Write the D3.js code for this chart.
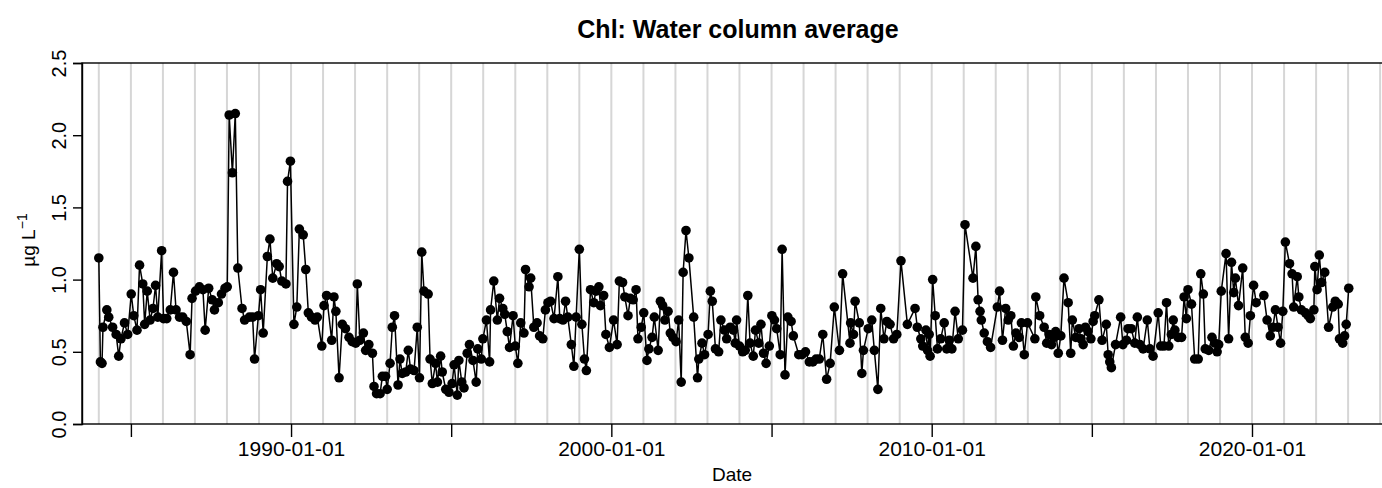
<!DOCTYPE html>
<html><head><meta charset="utf-8">
<script src="https://cdn.jsdelivr.net/npm/d3@7"></script>
<style>body{margin:0;background:#fff}svg{display:block}text{font-family:"Liberation Sans",Arial,sans-serif;fill:#000}</style>
</head><body><svg id="c" width="1382" height="488"></svg>
<script>
// Sample dates (decimal years) and chlorophyll values (µg/L)
const years = [
1984.00,1984.05,1984.10,1984.13,1984.25,1984.31,1984.43,1984.54,1984.62,1984.69,1984.80,1984.90,
1985.01,1985.09,1985.19,1985.27,1985.37,1985.43,1985.51,1985.60,1985.69,1985.77,1985.84,1985.96,
1986.02,1986.12,1986.23,1986.33,1986.41,1986.52,1986.62,1986.73,1986.85,1986.91,
1987.02,1987.14,1987.25,1987.32,1987.43,1987.54,1987.61,1987.73,1987.83,1987.94,
1988.01,1988.07,1988.17,1988.26,1988.34,1988.47,1988.55,1988.70,1988.80,1988.86,1988.98,
1989.05,1989.13,1989.26,1989.34,1989.43,1989.55,1989.63,1989.71,1989.84,1989.89,1989.98,
1990.09,1990.18,1990.26,1990.38,1990.46,1990.54,1990.64,1990.75,1990.82,1990.96,
1991.03,1991.11,1991.27,1991.34,1991.40,1991.50,1991.60,1991.70,1991.81,1991.91,
1992.02,1992.07,1992.15,1992.26,1992.33,1992.43,1992.54,1992.59,1992.67,1992.78,1992.85,1992.95,
1993.00,1993.09,1993.16,1993.23,1993.34,1993.40,1993.47,1993.58,1993.66,1993.73,1993.84,1993.94,
1994.01,1994.08,1994.15,1994.28,1994.34,1994.41,1994.51,1994.57,1994.67,1994.72,1994.83,1994.93,
1995.03,1995.09,1995.19,1995.24,1995.33,1995.40,1995.50,1995.57,1995.68,1995.78,1995.83,1995.94,1995.99,
1996.10,1996.20,1996.23,1996.33,1996.44,1996.51,1996.61,1996.67,1996.75,1996.82,1996.93,
1997.00,1997.08,1997.17,1997.27,1997.32,1997.43,1997.48,1997.58,1997.68,1997.76,1997.86,1997.94,
1998.02,1998.10,1998.21,1998.33,1998.39,1998.49,1998.57,1998.64,1998.75,1998.83,1998.90,
1999.00,1999.08,1999.16,1999.22,1999.35,1999.45,1999.52,1999.61,1999.66,1999.76,1999.83,1999.94,
2000.07,2000.18,2000.25,2000.35,2000.42,2000.52,2000.59,2000.68,2000.77,2000.83,2000.93,
2001.01,2001.11,2001.17,2001.27,2001.34,2001.46,2001.53,2001.60,2001.67,2001.77,2001.84,2001.92,
2002.02,2002.10,2002.18,2002.24,2002.33,2002.42,2002.57,2002.69,2002.73,2002.83,2002.91,
2003.02,2003.09,2003.15,2003.25,2003.35,2003.42,2003.53,2003.60,2003.71,2003.81,2003.87,2003.91,
2004.00,2004.10,2004.18,2004.26,2004.33,2004.43,2004.50,2004.60,2004.67,2004.75,2004.83,2004.93,
2005.01,2005.09,2005.16,2005.27,2005.33,2005.42,2005.51,2005.61,2005.68,2005.85,2005.95,
2006.06,2006.18,2006.29,2006.39,2006.49,2006.60,2006.72,2006.83,2006.96,
2007.12,2007.22,2007.45,2007.47,2007.56,2007.61,2007.74,2007.82,2007.87,
2008.02,2008.13,2008.21,2008.32,2008.41,2008.51,2008.60,2008.70,2008.81,2008.91,
2009.04,2009.24,2009.48,2009.55,2009.66,2009.72,2009.82,2009.87,2009.92,2009.95,
2010.03,2010.11,2010.18,2010.28,2010.39,2010.47,2010.55,2010.63,2010.73,2010.83,2010.96,
2011.04,2011.29,2011.38,2011.45,2011.51,2011.55,2011.64,2011.74,2011.84,
2012.05,2012.12,2012.21,2012.31,2012.39,2012.47,2012.55,2012.63,2012.73,2012.80,2012.89,2012.99,
2013.22,2013.25,2013.37,2013.51,2013.59,2013.67,2013.74,2013.82,2013.87,2013.95,
2014.03,2014.13,2014.26,2014.34,2014.39,2014.50,2014.60,2014.66,2014.73,2014.80,2014.88,2014.97,
2015.04,2015.09,2015.22,2015.32,2015.45,2015.51,2015.56,2015.61,2015.74,2015.90,2015.97,
2016.08,2016.13,2016.23,2016.34,2016.42,2016.50,2016.60,2016.73,2016.81,2016.91,
2017.07,2017.15,2017.25,2017.33,2017.40,2017.48,2017.54,2017.59,2017.69,2017.80,2017.88,2017.95,
2018.00,2018.11,2018.21,2018.32,2018.40,2018.48,2018.54,2018.65,2018.75,2018.84,2018.91,2018.96,
2019.04,2019.19,2019.27,2019.36,2019.43,2019.48,2019.58,2019.71,2019.79,2019.88,2019.95,
2020.05,2020.13,2020.37,2020.47,2020.57,2020.65,2020.73,2020.81,2020.89,2020.96,
2021.04,2021.17,2021.25,2021.30,2021.41,2021.46,2021.54,2021.67,2021.75,2021.82,2021.93,2021.96,
2022.03,2022.10,2022.17,2022.27,2022.39,2022.52,2022.60,2022.69,2022.73,2022.83,2022.89,2022.94,
2023.02];
const chl = [
1.15,0.43,0.42,0.67,0.79,0.74,0.67,0.62,0.47,0.59,0.70,0.62,
0.90,0.75,0.65,1.10,0.97,0.69,0.92,0.72,0.80,0.96,0.74,1.20,
0.73,0.73,0.79,1.05,0.79,0.74,0.74,0.71,0.48,0.87,
0.92,0.95,0.93,0.65,0.94,0.86,0.79,0.84,0.90,0.94,
0.95,2.14,1.74,2.15,1.08,0.80,0.72,0.74,0.74,0.45,0.75,
0.93,0.63,1.16,1.28,1.01,1.11,1.09,0.99,0.97,1.68,1.82,
0.69,0.81,1.35,1.31,1.07,0.77,0.74,0.72,0.74,0.54,
0.82,0.89,0.58,0.88,0.78,0.32,0.69,0.66,0.60,0.57,
0.56,0.97,0.58,0.63,0.51,0.55,0.49,0.26,0.21,0.21,0.33,0.33,
0.24,0.42,0.67,0.75,0.27,0.45,0.35,0.36,0.51,0.38,0.37,0.67,
0.32,1.19,0.92,0.90,0.45,0.28,0.42,0.29,0.47,0.36,0.24,0.22,
0.28,0.41,0.20,0.44,0.29,0.25,0.49,0.55,0.44,0.29,0.52,0.45,0.59,
0.72,0.43,0.79,0.99,0.72,0.87,0.80,0.76,0.64,0.53,0.75,
0.54,0.42,0.70,0.63,1.07,0.95,1.01,0.67,0.70,0.61,0.59,0.79,
0.84,0.85,0.73,1.02,0.73,0.72,0.85,0.74,0.55,0.40,0.74,
1.21,0.69,0.45,0.37,0.93,0.84,0.92,0.95,0.82,0.89,0.62,0.53,
0.72,0.55,0.99,0.98,0.88,0.75,0.87,0.86,0.93,0.59,0.67,
0.77,0.44,0.52,0.60,0.74,0.51,0.85,0.82,0.72,0.78,0.63,0.60,
0.57,0.72,0.29,1.05,1.34,1.15,0.74,0.32,0.45,0.56,0.48,
0.62,0.92,0.85,0.52,0.50,0.72,0.65,0.59,0.67,0.65,0.56,0.72,
0.54,0.50,0.51,0.89,0.56,0.47,0.65,0.56,0.69,0.49,0.42,0.54,
0.75,0.72,0.66,0.48,1.21,0.34,0.74,0.71,0.61,0.48,0.48,
0.50,0.43,0.43,0.45,0.45,0.62,0.31,0.42,0.81,
0.51,1.04,0.56,0.70,0.62,0.85,0.70,0.35,0.51,
0.66,0.72,0.51,0.24,0.80,0.59,0.71,0.69,0.59,0.62,
1.13,0.69,0.80,0.67,0.59,0.54,0.65,0.51,0.62,0.47,
1.00,0.75,0.52,0.59,0.70,0.52,0.58,0.52,0.78,0.59,0.65,
1.38,1.01,1.23,0.86,0.78,0.72,0.63,0.57,0.53,
0.81,0.92,0.58,0.80,0.72,0.75,0.54,0.63,0.60,0.70,0.48,0.70,
0.59,0.88,0.75,0.67,0.56,0.62,0.55,0.60,0.64,0.49,
0.61,1.01,0.84,0.49,0.72,0.60,0.66,0.59,0.55,0.67,0.64,0.59,
0.71,0.75,0.86,0.58,0.69,0.48,0.43,0.39,0.55,0.74,0.55,
0.58,0.66,0.66,0.56,0.74,0.55,0.52,0.72,0.52,0.47,
0.77,0.54,0.54,0.84,0.54,0.62,0.72,0.65,0.60,0.60,0.88,0.73,
0.93,0.83,0.45,0.45,1.04,0.90,0.52,0.51,0.60,0.56,0.50,0.55,
0.92,1.18,0.59,1.12,0.91,1.01,0.82,1.08,0.60,0.56,0.75,
0.96,0.84,0.89,0.72,0.61,0.67,0.79,0.67,0.56,0.78,
1.26,1.11,1.04,0.81,1.02,0.88,0.79,0.77,0.75,0.73,0.79,1.09,
0.93,1.17,0.98,1.05,0.67,0.81,0.85,0.83,0.59,0.56,0.61,0.69,
0.94];
const yTicks = [0, 0.5, 1.0, 1.5, 2.0, 2.5];
const yTickLabels = ["0.0","0.5","1.0","1.5","2.0","2.5"];
const xTickYears = [1985, 1990, 1995, 2000, 2005, 2010, 2015, 2020];
const xTickLabels = ["", "1990-01-01", "", "2000-01-01", "", "2010-01-01", "", "2020-01-01"];
const gridYears = d3.range(1984, 2025);
const titleText = "Chl: Water column average";
const xLabel = "Date";

function dec2date(y) {
  const yr = Math.floor(y);
  const s = new Date(Date.UTC(yr, 0, 1)), e = new Date(Date.UTC(yr + 1, 0, 1));
  return new Date(s.getTime() + (y - yr) * (e - s));
}
const data = years.map((y, i) => ({ d: dec2date(y), v: chl[i] }));

const svg = d3.select("#c");
const L = 82, R = 1392, T = 63, B = 424;
const x = d3.scaleUtc().domain([dec2date(1983.475), dec2date(2024.37)]).range([L, R]);
const y = d3.scaleLinear().domain([0, 2.5]).range([B, T]);
const FONT = "Liberation Sans, Arial, sans-serif";

// year grid lines
svg.append("g").selectAll("line").data(gridYears).join("line")
  .attr("x1", d => x(new Date(Date.UTC(d, 0, 1)))).attr("x2", d => x(new Date(Date.UTC(d, 0, 1))))
  .attr("y1", T).attr("y2", B).attr("stroke", "#d6d6d6").attr("stroke-width", 2);

// line + points
svg.append("path").datum(data)
  .attr("d", d3.line().x(d => x(d.d)).y(d => y(d.v)))
  .attr("fill", "none").attr("stroke", "#000").attr("stroke-width", 1.5);
svg.append("g").selectAll("circle").data(data).join("circle")
  .attr("cx", d => x(d.d)).attr("cy", d => y(d.v)).attr("r", 4.8).attr("fill", "#000");

// box
svg.append("rect").attr("x", L).attr("y", T).attr("width", R - L).attr("height", B - T)
  .attr("fill", "none").attr("stroke", "#000").attr("stroke-width", 1.4);

// y axis
const ya = svg.append("g").attr("transform", `translate(${L},0)`)
  .call(d3.axisLeft(y).tickValues(yTicks).tickFormat((d, i) => yTickLabels[i]).tickSize(9).tickPadding(0));
ya.select(".domain").attr("stroke-width", 1.4);
ya.selectAll(".tick line").attr("stroke-width", 1.4);
ya.selectAll(".tick text").attr("transform", "rotate(-90)").attr("x", 0).attr("y", -16)
  .attr("text-anchor", "middle").attr("dy", 0).style("font-size", "20px").style("font-family", FONT).attr("fill", "#222");

// x axis
const xa = svg.append("g").attr("transform", `translate(0,${B})`)
  .call(d3.axisBottom(x).tickValues(xTickYears.map(d => new Date(Date.UTC(d, 0, 1))))
    .tickFormat((d, i) => xTickLabels[i]).tickSize(13).tickPadding(4));
xa.select(".domain").remove();
xa.selectAll(".tick line").attr("stroke-width", 1.4);
xa.selectAll(".tick text").style("font-size", "21px").style("font-family", FONT).attr("fill", "#222");

// labels
svg.append("text").attr("x", 738).attr("y", 38).attr("text-anchor", "middle")
  .style("font-size", "25px").style("font-weight", "bold").text(titleText);
svg.append("text").attr("x", 732).attr("y", 481).attr("text-anchor", "middle")
  .style("font-size", "19px").attr("fill", "#222").text(xLabel);
const yl = svg.append("text").attr("transform", "translate(35,240) rotate(-90)").attr("text-anchor", "middle")
  .style("font-size", "19px").attr("fill", "#222");
yl.append("tspan").text("µg L");
yl.append("tspan").attr("dy", -8).style("font-size", "14px").text("−1");
</script></body></html>
